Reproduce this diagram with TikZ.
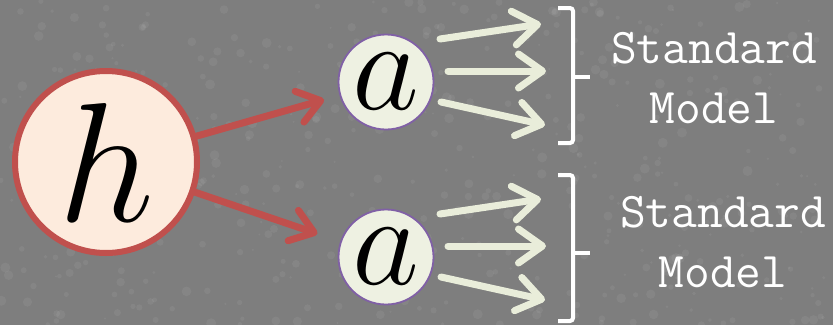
\RequirePackage{fix-cm}
\documentclass[tikz,border=0pt]{standalone}
\usepackage{amsmath}
\usetikzlibrary{arrows.meta}

\definecolor{slate}{RGB}{126,126,126}
\definecolor{hred}{RGB}{192,80,77}
\definecolor{hpeach}{RGB}{253,235,221}
\definecolor{apurple}{RGB}{128,96,166}
\definecolor{acream}{RGB}{238,241,226}
\definecolor{fangreen}{RGB}{233,237,218}

\begin{document}
\begin{tikzpicture}[x=1pt,y=-1pt,
  higgs/.style={circle, draw=hred, line width=6pt, fill=hpeach, minimum size=182pt, inner sep=0pt, font=\fontsize{170}{170}\selectfont},
  axion/.style={circle, draw=apurple, line width=1.8pt, fill=acream, minimum size=95pt, inner sep=0pt, font=\fontsize{130}{130}\selectfont},
  redarrow/.style={hred, line width=7pt, line cap=round, -{Straight Barb[round,length=22pt,width=32pt]}},
  fanarrow/.style={fangreen, line width=7pt, line cap=round, -{Straight Barb[round,length=24pt,width=34pt]}},
  brace/.style={white, line width=4pt, rounded corners=3pt},
  smlabel/.style={text=white, align=center, font=\ttfamily\fontsize{50}{60}\selectfont}]

% Background
\fill[slate] (0,0) rectangle (833,325);
\useasboundingbox (0,0) rectangle (833,325);
\pgfmathsetseed{42}
\foreach \i in {1,...,500}{
  \fill[white, opacity=0.06] (rnd*833, rnd*325) circle[radius={1pt+rnd*4pt}];
}

% Particles
\node[higgs] (h) at (106,162) {$h$};
\node[axion] (a1) at (386,82) {$a$};
\node[axion] (a2) at (386,257) {$a$};

% Decays h -> aa
\draw[redarrow, shorten >=16pt] (h) -- (a1);
\draw[redarrow, shorten >=24pt] (h) -- (a2);

% Decays a -> SM
\foreach \n in {a1,a2}{
  \foreach \sx/\sy/\tx/\ty [count=\k] in {54/-43/155/-58, 62/-11/160/-11, 55/20/159/43}{
    \coordinate (\n-tip\k) at ([shift={(\tx,\ty)}]\n.center);
    \draw[fanarrow] ([shift={(\sx,\sy)}]\n.center) -- (\n-tip\k);
  }
}

% Braces
\draw[brace] (558,8) -- (573,8) -- (573,143) -- (558,143);
\draw[brace] (573,77) -- (590,77);
\draw[brace] (558,175) -- (573,175) -- (573,321) -- (558,321);
\draw[brace] (573,253) -- (590,253);

% Labels
\node[smlabel] (sm1) at (714,78) {Standard\\Model};
\node[smlabel] (sm2) at (723,242) {Standard\\Model};
\end{tikzpicture}
\end{document}
